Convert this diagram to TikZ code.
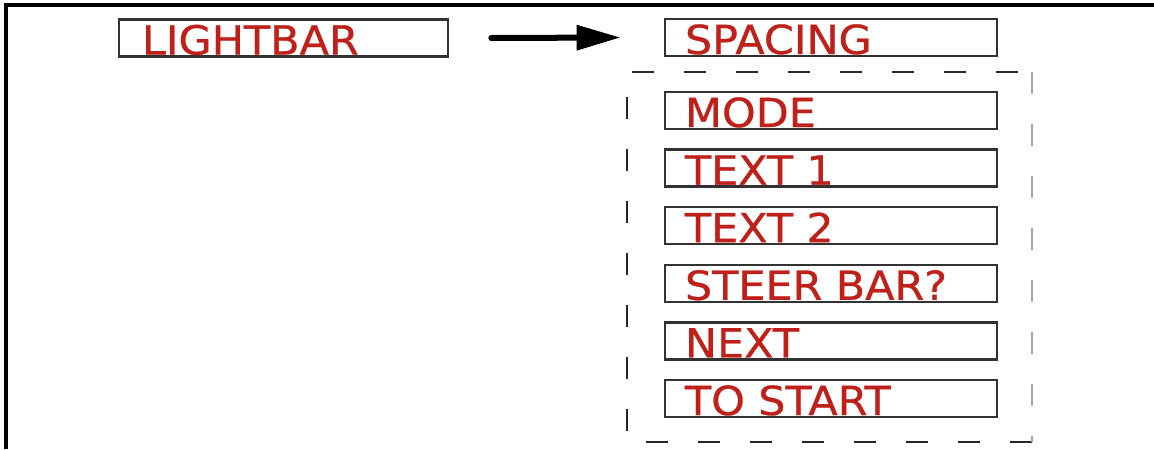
\documentclass[tikz,border=0pt]{standalone}
\usepackage{fontspec}
\usepackage{tikz}
\usetikzlibrary{arrows.meta, positioning}
\newfontfamily\menufont[FakeStretch=1.07, FakeBold=0.7]{DejaVu Sans}
\definecolor{menured}{RGB}{192,32,26}
\definecolor{boxgray}{RGB}{50,50,50}

\tikzset{
    menubox/.style={draw=boxgray, line width=1.8pt, text=menured,
        font=\menufont\fontsize{28.5pt}{32pt}\selectfont,
        text width=7.3cm, align=left, inner xsep=0.5cm, inner ysep=0pt,
        minimum height=0.925cm, text height=0.825cm, text depth=0pt},
    flowarrow/.style={line width=0.15cm, line cap=round,
        -{Triangle[length=1.1cm, width=0.6cm]}},
    groupline/.style={line width=2pt, draw=black!85,
        dash pattern=on 0.55cm off 0.75cm}
}

\begin{document}
\begin{tikzpicture}[x=0.025cm, y=-0.025cm]
    % Define the frame
    \useasboundingbox (0,0) rectangle (1154,449);
    \draw[line width=0.09cm] (6,449) -- (6,5) -- (1154,5);

    % Top row
    \node[menubox, inner xsep=0.575cm, text width=7.075cm] (lightbar) at (283.5,38) {LIGHTBAR};
    \node[menubox] (spacing) at (831,37.5) {SPACING};
    \draw[flowarrow] ([xshift=1.05cm]lightbar.east) -- ([xshift=-1.075cm]spacing.west);

    % Sub menu
    \foreach \txt [count=\k] in {MODE, TEXT 1, TEXT 2, STEER BAR?, NEXT, TO START} {
        \node[menubox] (item\k) at (831, {110.5+57.6*(\k-1)}) {\txt};
    }

    % Group frame
    \draw[groupline] (1032,442) -- (627,442) -- (627,72) -- (1032,72);
    \draw[groupline, draw=gray!70, line width=0.8pt] (1032,72) -- (1032,442);

\end{tikzpicture}
\end{document}
